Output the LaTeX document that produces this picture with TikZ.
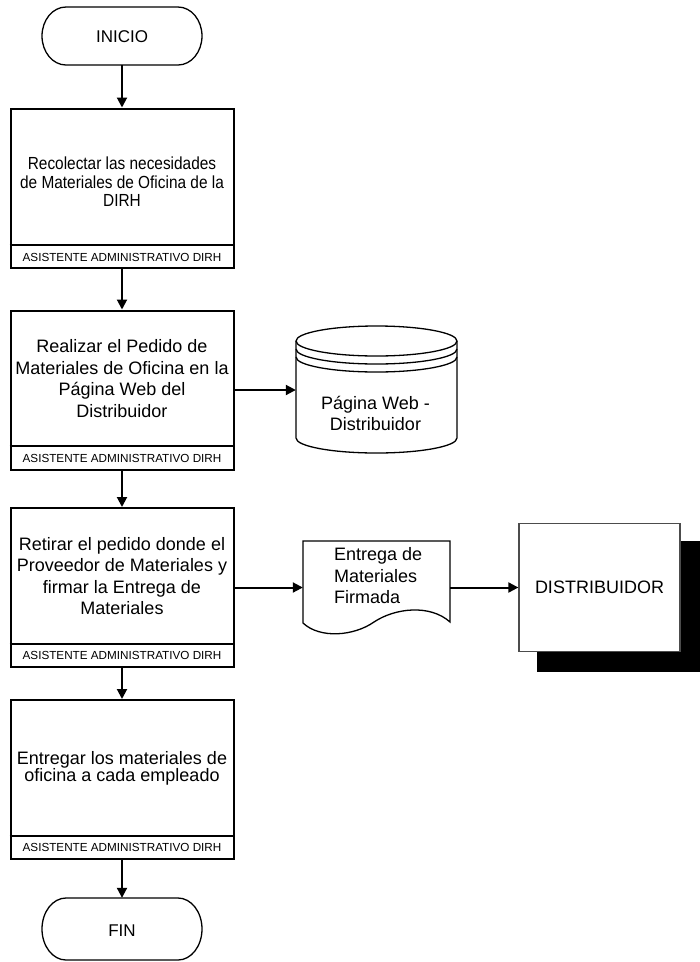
\documentclass[tikz,border=0pt]{standalone}
\usepackage{fontspec}
\setmainfont{Liberation Sans}
\newfontfamily\narrowsans[FakeStretch=0.88]{Liberation Sans}
\usetikzlibrary{arrows.meta}
\begin{document}
\begin{tikzpicture}[x=1pt,y=-1pt,
  flow/.style={line width=2pt,-{Triangle[length=10pt,width=10pt]}},
  outline/.style={line width=1.3pt},
  hidden/.style={inner sep=0pt},
  procbox/.style={draw,line width=2pt,minimum width=223pt,minimum height=159pt,inner sep=0pt},
  proctext/.style={align=center,inner sep=0pt,font=\fontsize{18}{21.5}\selectfont},
  bandtext/.style={inner sep=0pt,font=\fontsize{11.7}{13}\selectfont},
  bigtext/.style={inner sep=0pt,font=\fontsize{17}{20}\selectfont},
]
\useasboundingbox (0,0) rectangle (700,962);

% ---- start terminator ----
\node[hidden,minimum width=160pt,minimum height=58pt] (ini) at (122,36) {};
\draw[outline] (66,7) -- (178,7)
  arc[start angle=-90,end angle=90,x radius=24,y radius=29] -- (66,65)
  arc[start angle=90,end angle=270,x radius=24,y radius=29] -- cycle;
\node[bigtext] (initxt) at (122,37) {INICIO};

% ---- process 1 ----
\node[procbox] (b1) at (122,188) {};
\draw[line width=2pt] (b1.west |- 0,245) -- (b1.east |- 0,245);
\node[align=center,inner sep=0pt,font=\narrowsans\fontsize{17.5}{18.5}\selectfont] (b1t) at (122,182)
  {Recolectar las necesidades\\de Materiales de Oficina de la\\DIRH};
\node[bandtext] (b1r) at (122,257) {ASISTENTE ADMINISTRATIVO DIRH};

% ---- process 2 ----
\node[procbox] (b2) at (122,390) {};
\draw[line width=2pt] (b2.west |- 0,446) -- (b2.east |- 0,446);
\node[proctext] (b2t) at (122,378.5)
  {Realizar el Pedido de\\Materiales de Oficina en la\\Página Web del\\Distribuidor};
\node[bandtext] (b2r) at (122,458) {ASISTENTE ADMINISTRATIVO DIRH};

% ---- database: web page ----
\node[hidden,minimum width=161pt,minimum height=128pt] (cyl) at (376.5,390) {};
\draw[outline] (296,341) -- (296,438)
  arc[start angle=180,end angle=0,x radius=80.5,y radius=15] -- (457,341);
\draw[outline] (376.5,341) ellipse[x radius=80.5,y radius=15];
\draw[outline] (296,349) arc[start angle=180,end angle=0,x radius=80.5,y radius=15];
\draw[outline] (296,357) arc[start angle=180,end angle=0,x radius=80.5,y radius=15];
\node[proctext] (cylt) at (375.5,413.5) {Página Web -\\Distribuidor};

% ---- process 3 ----
\node[procbox] (b3) at (122,587.5) {};
\draw[line width=2pt] (b3.west |- 0,644) -- (b3.east |- 0,644);
\node[proctext] (b3t) at (122,576)
  {Retirar el pedido donde el\\Proveedor de Materiales y\\firmar la Entrega de\\Materiales};
\node[bandtext] (b3r) at (122,655.5) {ASISTENTE ADMINISTRATIVO DIRH};

% ---- document: signed delivery ----
\node[hidden,minimum width=147pt,minimum height=93pt] (doc) at (376.5,587.5) {};
\draw[outline] (303,541) -- (450,541) -- (450,622)
  .. controls (430,604) and (395,608) .. (374,622)
  .. controls (354,636) and (320,639) .. (303,623) -- cycle;
\node[proctext,align=left,anchor=west] (doct) at (334,576)
  {Entrega de\\Materiales\\Firmada};

% ---- external entity with shadow ----
\fill[black] (537,541) rectangle (700,672);
\node[draw=black!70,fill=white,line width=1.3pt,minimum width=161pt,minimum height=128pt,
  inner sep=0pt,font=\fontsize{18}{21}\selectfont] (dist) at (599.5,587.5) {DISTRIBUIDOR};

% ---- process 4 ----
\node[procbox] (b4) at (122,779.5) {};
\draw[line width=2pt] (b4.west |- 0,836) -- (b4.east |- 0,836);
\node[proctext,font=\fontsize{18}{17}\selectfont] (b4t) at (122,768)
  {Entregar los materiales de\\oficina a cada empleado};
\node[bandtext] (b4r) at (122,847.5) {ASISTENTE ADMINISTRATIVO DIRH};

% ---- end terminator ----
\node[hidden,minimum width=160pt,minimum height=62pt] (fin) at (122,929) {};
\draw[outline] (66,898) -- (178,898)
  arc[start angle=-90,end angle=90,x radius=24,y radius=31] -- (66,960)
  arc[start angle=90,end angle=270,x radius=24,y radius=31] -- cycle;
\node[bigtext] (fintxt) at (122,931) {FIN};

% ---- connectors ----
\draw[flow] (ini.south) -- (b1.north);
\draw[flow] (b1.south) -- (b2.north);
\draw[flow] (b2.south) -- (b3.north);
\draw[flow] (b3.south) -- (b4.north);
\draw[flow] (b4.south) -- (fin.north);
\draw[flow] (b2.east) -- (cyl.west);
\draw[flow] (b3.east) -- (doc.west);
\draw[flow] (doc.east) -- (dist.west);
\end{tikzpicture}
\end{document}
